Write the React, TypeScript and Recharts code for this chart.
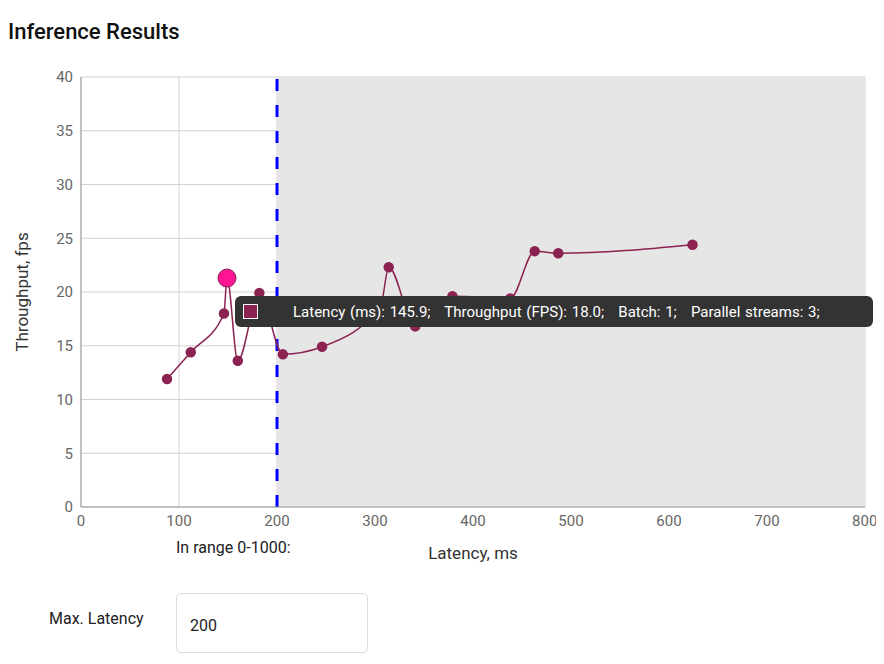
import React from "react";
import { ComposedChart, Line, XAxis, YAxis, CartesianGrid, ReferenceArea, ReferenceLine, Scatter } from "recharts";

const latency = [87.8, 112, 145.9, 149, 160, 182, 206, 246, 306, 314, 341, 379, 438, 463, 487, 624];
const throughput = [11.9, 14.4, 18.0, 21.3, 13.6, 19.9, 14.2, 14.9, 18.8, 22.3, 16.8, 19.6, 19.4, 23.8, 23.6, 24.4];
const xTicks = [0, 100, 200, 300, 400, 500, 600, 700, 800];
const yTicks = [0, 5, 10, 15, 20, 25, 30, 35, 40];
const maxLatency = 200;
const selected = [{ x: 149, y: 21.3 }];

const data = latency.map((x, i) => ({ x, y: throughput[i] }));
const font = "Roboto, 'Noto Sans', sans-serif";

export default function App() {
  return (
    <div style={{ position: "relative", width: 868, height: 656, fontFamily: font }}>
      <div style={{ position: "absolute", left: 0, top: 11, fontSize: 22, fontWeight: 500, color: "#111" }}>Inference Results</div>
      <div style={{ position: "absolute", left: 0, top: 52 }}>
        <ComposedChart width={868} height={528} data={data} margin={{ top: 17, right: 11, left: 0, bottom: 21 }}>
          <ReferenceArea x1={maxLatency} x2={800} y1={0} y2={40} fill="#e6e6e6" fillOpacity={1} stroke="none" />
          <CartesianGrid stroke="#d0d0d0" />
          <XAxis type="number" dataKey="x" domain={[0, 800]} ticks={xTicks} tick={{ fill: "#666", fontSize: 15 }} stroke="#999" tickLine={false} height={60}
            label={{ value: "Latency, ms", position: "insideBottom", offset: 8, fill: "#333", fontSize: 17 }} />
          <YAxis type="number" domain={[0, 40]} ticks={yTicks} tick={{ fill: "#666", fontSize: 15 }} stroke="#999" tickLine={false} width={73}
            label={{ value: "Throughput, fps", angle: -90, position: "insideLeft", offset: 14, fill: "#333", fontSize: 17, style: { textAnchor: "middle" } }} />
          <ReferenceLine x={maxLatency} stroke="#0000ff" strokeWidth={3} strokeDasharray="12 14" />
          <Line type="monotone" dataKey="y" stroke="#8b2252" strokeWidth={1.5} isAnimationActive={false}
            dot={{ r: 4.5, fill: "#8b2252", stroke: "#8b2252" }} activeDot={false} />
          <Scatter data={selected} dataKey="y" fill="#ff1493" stroke="#8b2252" isAnimationActive={false}
            shape={(p: any) => <circle cx={p.cx} cy={p.cy} r={9} fill="#ff1493" stroke="#8b2252" />} />
        </ComposedChart>
      </div>
      <div style={{ position: "absolute", left: 227, top: 288, width: 638, height: 31, background: "#333", borderRadius: 6, color: "#fff", fontSize: 15, display: "flex", alignItems: "center", whiteSpace: "pre", wordSpacing: 1 }}>
        <span style={{ display: "inline-block", width: 13, height: 13, background: "#8b2252", border: "1.5px solid #fff", marginLeft: 8, marginRight: 35 }} />
        {"Latency (ms): 145.9;   Throughput (FPS): 18.0;   Batch: 1;   Parallel streams: 3;"}
      </div>
      <div style={{ position: "absolute", left: 168, top: 530, fontSize: 16, color: "#222" }}>In range 0-1000:</div>
      <div style={{ position: "absolute", left: 41, top: 601, fontSize: 16, color: "#222" }}>Max. Latency</div>
      <div style={{ position: "absolute", left: 168, top: 585, width: 192, height: 60, border: "1px solid #ddd", borderRadius: 5, boxSizing: "border-box", fontSize: 16, color: "#222", paddingLeft: 13, paddingTop: 4, display: "flex", alignItems: "center" }}>{String(maxLatency)}</div>
    </div>
  );
}
